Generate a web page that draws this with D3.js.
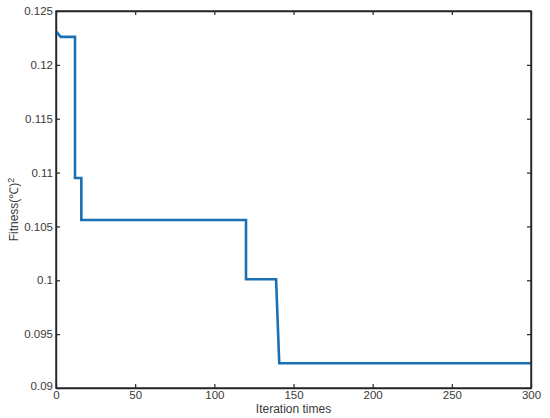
<!DOCTYPE html>
<html>
<head>
<meta charset="utf-8">
<script src="https://cdn.jsdelivr.net/npm/d3@7/dist/d3.min.js"></script>
<style>
  html, body { margin: 0; padding: 0; background: #fff; }
  svg { display: block; font-family: "Liberation Sans", Arial, sans-serif; }
</style>
</head>
<body>
<svg id="chart" width="550" height="418"></svg>
<script>
// Data
const iterations = [0, 3, 12, 12, 16, 16, 120, 120, 139, 141, 300];
const fitness    = [0.1231, 0.1226, 0.1226, 0.1095, 0.1095, 0.1056, 0.1056, 0.1001, 0.1001, 0.0923, 0.0923];
const xTicks = [0, 50, 100, 150, 200, 250, 300];
const yTicks = [0.09, 0.095, 0.1, 0.105, 0.11, 0.115, 0.12, 0.125];
const xTickLabels = ["0", "50", "100", "150", "200", "250", "300"];
const yTickLabels = ["0.09", "0.095", "0.1", "0.105", "0.11", "0.115", "0.12", "0.125"];

const svg = d3.select("#chart");
const m = { left: 56, top: 11, right: 531, bottom: 388 };
const x = d3.scaleLinear().domain([0, 300]).range([m.left, m.right]);
const y = d3.scaleLinear().domain([0.09, 0.125]).range([m.bottom, m.top]);

const axisColor = "#262626";
const textColor = "#3a3a3a";
const tickLen = 4;

// Bottom axis
const gx = svg.append("g").attr("transform", `translate(0,${m.bottom})`)
  .call(d3.axisBottom(x).tickValues(xTicks).tickFormat((d, i) => xTickLabels[i])
    .tickSizeInner(-tickLen).tickSizeOuter(0).tickPadding(3));
// Top axis (mirrored ticks, no labels)
const gxt = svg.append("g").attr("transform", `translate(0,${m.top})`)
  .call(d3.axisTop(x).tickValues(xTicks).tickFormat("")
    .tickSizeInner(-tickLen).tickSizeOuter(0));
// Left axis
const gy = svg.append("g").attr("transform", `translate(${m.left},0)`)
  .call(d3.axisLeft(y).tickValues(yTicks).tickFormat((d, i) => yTickLabels[i])
    .tickSizeInner(-tickLen).tickSizeOuter(0).tickPadding(3));
// Right axis
const gyr = svg.append("g").attr("transform", `translate(${m.right},0)`)
  .call(d3.axisRight(y).tickValues(yTicks).tickFormat("")
    .tickSizeInner(-tickLen).tickSizeOuter(0));

[gx, gxt, gy, gyr].forEach(g => {
  g.select(".domain").attr("stroke", axisColor).attr("stroke-width", 1.4);
  g.selectAll(".tick line").attr("stroke", axisColor).attr("stroke-width", 1.2);
  g.selectAll(".tick text").attr("fill", textColor).attr("font-size", 11.5)
    .attr("font-family", "Liberation Sans, Arial, sans-serif");
});
gy.selectAll(".tick text").filter(d => d === 0.09).attr("dy", "0.1em");

// Line
const line = d3.line().x(d => x(d[0])).y(d => y(d[1]));
const pts = iterations.map((v, i) => [v, fitness[i]]);
svg.append("path").datum(pts)
  .attr("d", line)
  .attr("fill", "none")
  .attr("stroke", "#1b70b3")
  .attr("stroke-width", 2.6)
  .attr("stroke-linejoin", "miter");

// Redraw frame on top
svg.append("rect").attr("x", m.left).attr("y", m.top)
  .attr("width", m.right - m.left).attr("height", m.bottom - m.top)
  .attr("fill", "none").attr("stroke", axisColor).attr("stroke-width", 1.4);

// Axis labels
svg.append("text")
  .attr("x", (m.left + m.right) / 2).attr("y", 413)
  .attr("text-anchor", "middle").attr("fill", textColor).attr("font-size", 12)
  .text("Iteration times");

const yl = svg.append("text")
  .attr("transform", `translate(18,${(m.top + m.bottom) / 2 + 10}) rotate(-90)`)
  .attr("text-anchor", "middle").attr("fill", textColor).attr("font-size", 12);
yl.append("tspan").text("Fitness(℃)");
yl.append("tspan").attr("dy", "-0.5em").attr("font-size", 9).text("2");
</script>
</body>
</html>
